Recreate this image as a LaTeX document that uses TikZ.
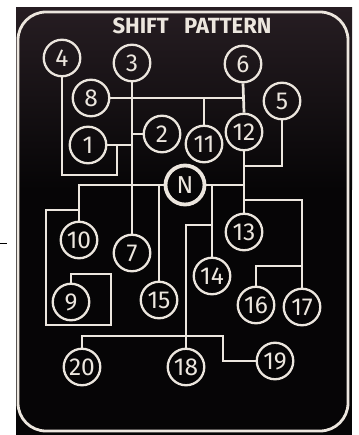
\documentclass[tikz,border=0pt]{standalone}
\usepackage{fontspec}
\setmainfont{Fira Sans}
\definecolor{ink}{HTML}{ECE6DE}
\definecolor{platetop}{HTML}{261D22}
\definecolor{platebot}{HTML}{060506}
\tikzset{
  gear/.style={circle, draw=ink, line width=2.3pt, minimum size=36.5pt, inner sep=0pt,
    text=ink, font=\fontsize{24.5}{24.5}\selectfont},
  neutral/.style={gear, line width=3.8pt, minimum size=39pt},
  wire/.style={draw=ink, line width=2.7pt, line join=miter},
}
\begin{document}
\begin{tikzpicture}[x=1pt,y=-1pt]
\useasboundingbox (0,0) rectangle (358,435);
\fill[white] (0,0) rectangle (358,435);
\fill[platebot] (16,8) rectangle (352,435);
\shade[top color=platetop, bottom color=platebot] (16,8) rectangle (352,190);
\draw[ink, line width=2.8pt, rounded corners=28pt] (18,12) rectangle (348,431);
\draw[black, line width=1pt] (0,243) -- (7,243);

\node[text=ink, font=\bfseries\fontsize{22}{22}\selectfont] (title) at (192,26) {SHIFT\hspace{0.7em}PATTERN};

\node[gear] (n4) at (62,58) {4};
\node[gear] (n3) at (132,63) {3};
\node[gear] (n6) at (243,64) {6};
\node[gear] (n8) at (91,98) {8};
\node[gear] (n5) at (282,101) {5};
\node[gear] (n2) at (162,134) {2};
\node[gear] (n11) at (204,144) {11};
\node[gear] (n12) at (244,132) {12};
\node[gear] (n1) at (88,145) {1};
\node[neutral] (nN) at (185,185) {N};
\node[gear] (n10) at (79,240) {10};
\node[gear] (n7) at (132,253) {7};
\node[gear] (n13) at (244,232) {13};
\node[gear] (n14) at (212,276) {14};
\node[gear] (n9) at (71,302) {9};
\node[gear] (n15) at (159,300) {15};
\node[gear] (n16) at (256,305) {16};
\node[gear] (n17) at (302,307) {17};
\node[gear] (n20) at (82,367) {20};
\node[gear] (n18) at (186,367) {18};
\node[gear] (n19) at (275,361) {19};

\coordinate (c4) at (117,175);
\coordinate (c1) at (117,145);
\coordinate (c5) at (244,166);
\coordinate (c10) at (79,210);
\coordinate (c14) at (212,225);
\coordinate (c19) at (223,336);
\coordinate (c13) at (244,200);
\coordinate (c16) at (302,266);

\draw[wire] (n4.south) |- (c4) -- (c1);
\draw[wire] (n1.east) -- (n1.east -| n3.south);
\draw[wire] (n2.west) -- (n2.west -| n3.south);
\draw[wire] (n3.south) -- (n7.north);
\draw[wire] (n8.east) -- (n8.east -| n6.south);
\draw[wire] (n6.south) -- (n12.north);
\draw[wire] (n11.north) -- (n11.north |- n8.east);
\draw[wire] (n5.south) |- (c5);
\draw[wire] (n12.south) -- (n13.north);
\draw[wire] (nN.east) -- (nN.east -| n12.south);
\draw[wire] (nN.west) -| (n10.north);
\draw[wire] (c10) -- (46,210) -- (46,325) -- (111,325) -- (111,274) -- (71,274) -- (n9.north);
\draw[wire] (n15.north) -- (n15.north |- nN.west);
\draw[wire] (n14.north) -- (n14.north |- nN.east);
\draw[wire] (c14) -| (n18.north);
\draw[wire] (n20.north) |- (c19) |- (n19.west);
\draw[wire] (c13) -| (n17.north);
\draw[wire] (c16) -| (n16.north);
\end{tikzpicture}
\end{document}
